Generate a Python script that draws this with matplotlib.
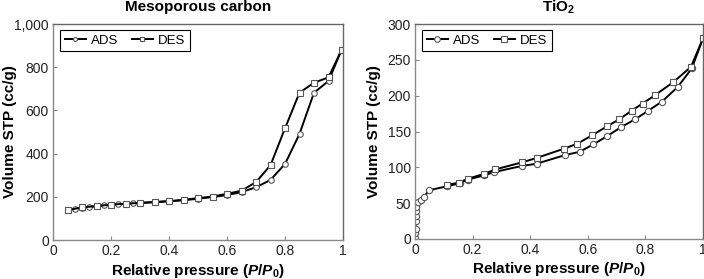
import matplotlib
matplotlib.use("Agg")
import matplotlib.pyplot as plt

plt.rcParams['font.family'] = ['Liberation Sans', 'DejaVu Sans']
plt.rcParams['mathtext.fontset'] = 'custom'
plt.rcParams['mathtext.rm'] = 'Liberation Sans:bold'
plt.rcParams['mathtext.it'] = 'Liberation Sans:italic:bold'
plt.rcParams['mathtext.bf'] = 'Liberation Sans:bold'

# Mesoporous carbon
mc_ads_x = [0.05, 0.075, 0.1, 0.125, 0.15, 0.175, 0.2, 0.225, 0.25, 0.275, 0.3, 0.35, 0.4, 0.45,
            0.5, 0.55, 0.6, 0.65, 0.7, 0.75, 0.8, 0.85, 0.9, 0.95, 0.995]
mc_ads_y = [137, 145, 150, 153, 156, 160, 163, 165, 167, 169, 171, 175, 179, 184,
            191, 199, 208, 222, 244, 278, 352, 491, 682, 736, 880]
mc_des_x = [0.995, 0.95, 0.9, 0.85, 0.8, 0.75, 0.7, 0.65, 0.6, 0.55, 0.5, 0.45, 0.4, 0.35,
            0.3, 0.25, 0.2, 0.15, 0.1, 0.05]
mc_des_y = [880, 753, 728, 682, 517, 346, 268, 228, 214, 201, 194, 186, 180, 176,
            172, 168, 164, 157, 151, 138]

# TiO2
ti_ads_x = [0.001, 0.001, 0.002, 0.002, 0.003, 0.003, 0.004, 0.01, 0.021, 0.032, 0.049,
            0.11, 0.155, 0.183, 0.24, 0.275, 0.372, 0.422, 0.52, 0.572, 0.619, 0.668,
            0.715, 0.764, 0.81, 0.857, 0.912, 0.961, 1.0]
ti_ads_y = [2, 9, 14, 25, 32, 39, 44, 51, 54, 59, 68,
            73.5, 77.6, 82.8, 88.8, 93.4, 102, 105, 117, 121.7, 132, 143.7,
            156, 167, 179, 191.6, 212, 238, 280]
ti_des_x = [1.0, 0.958, 0.897, 0.833, 0.79, 0.752, 0.709, 0.666, 0.616, 0.564, 0.517,
            0.422, 0.372, 0.278, 0.241, 0.183, 0.153, 0.11]
ti_des_y = [280, 240, 219, 200.5, 189, 179, 167, 157, 145, 133, 126,
            113, 107, 97, 91, 84, 78.6, 75.4]

fig = plt.figure(figsize=(7.04, 2.79), dpi=100)
ax1 = fig.add_axes([53/704, 39/279, 290/704, 216/279])
ax2 = fig.add_axes([415/704, 40/279, 288/704, 215/279])

mk = dict(color='black', lw=1.4, mfc='white', mec='#555555', mew=0.8)

ax1.plot(mc_ads_x, mc_ads_y, marker='o', ms=4, label='ADS', **mk)
ax1.plot(mc_des_x, mc_des_y, marker='s', ms=4.5, label='DES', **mk)
ax2.plot(ti_ads_x, ti_ads_y, marker='o', ms=4.5, label='ADS', **mk)
ax2.plot(ti_des_x, ti_des_y, marker='s', ms=5, label='DES', **mk)

ax1.set_xlim(0, 1)
ax1.set_ylim(0, 1000)
ax1.set_xticks([0, 0.2, 0.4, 0.6, 0.8, 1])
ax1.set_xticklabels(['0', '0.2', '0.4', '0.6', '0.8', '1'])
ax1.set_yticks([0, 200, 400, 600, 800, 1000])
ax1.set_yticklabels(['0', '200', '400', '600', '800', '1,000'])
ax1.set_title('Mesoporous carbon', fontsize=11, fontweight='bold', pad=9)

ax2.set_xlim(0, 1)
ax2.set_ylim(0, 300)
ax2.set_xticks([0, 0.2, 0.4, 0.6, 0.8, 1])
ax2.set_xticklabels(['0', '0.2', '0.4', '0.6', '0.8', '1'])
ax2.set_yticks([0, 50, 100, 150, 200, 250, 300])
ax2.set_title('TiO$_2$', fontsize=11, fontweight='bold', pad=9)

for ax, ms, ylx in ((ax1, 0.7, -0.125), (ax2, 0.9, -0.118)):
    ax.set_xlabel('Relative pressure ($P/P_0$)', fontsize=11, fontweight='bold')
    ax.set_ylabel('Volume STP (cc/g)', fontsize=11, fontweight='bold')
    ax.xaxis.set_label_coords(0.5, -0.1)
    ax.yaxis.set_label_coords(ylx, 0.5)
    ax.tick_params(direction='in', length=3, color='#888888', labelsize=10,
                   labelcolor='#222222', pad=3)
    for s in ax.spines.values():
        s.set_color('#888888')
        s.set_linewidth(1.0)
    ax.spines['top'].set_color('#666666')
    ax.spines['right'].set_color('#666666')
    leg = ax.legend(loc='upper left', ncol=2, fontsize=9.5, frameon=True, fancybox=False,
                    edgecolor='black', framealpha=1, markerscale=ms, handlelength=1.6,
                    columnspacing=1.0, handletextpad=0.4, borderpad=0.35,
                    bbox_to_anchor=(0.015, 0.985), borderaxespad=0.2)
    leg.get_frame().set_linewidth(0.8)

fig.savefig('out.png', dpi=100)
